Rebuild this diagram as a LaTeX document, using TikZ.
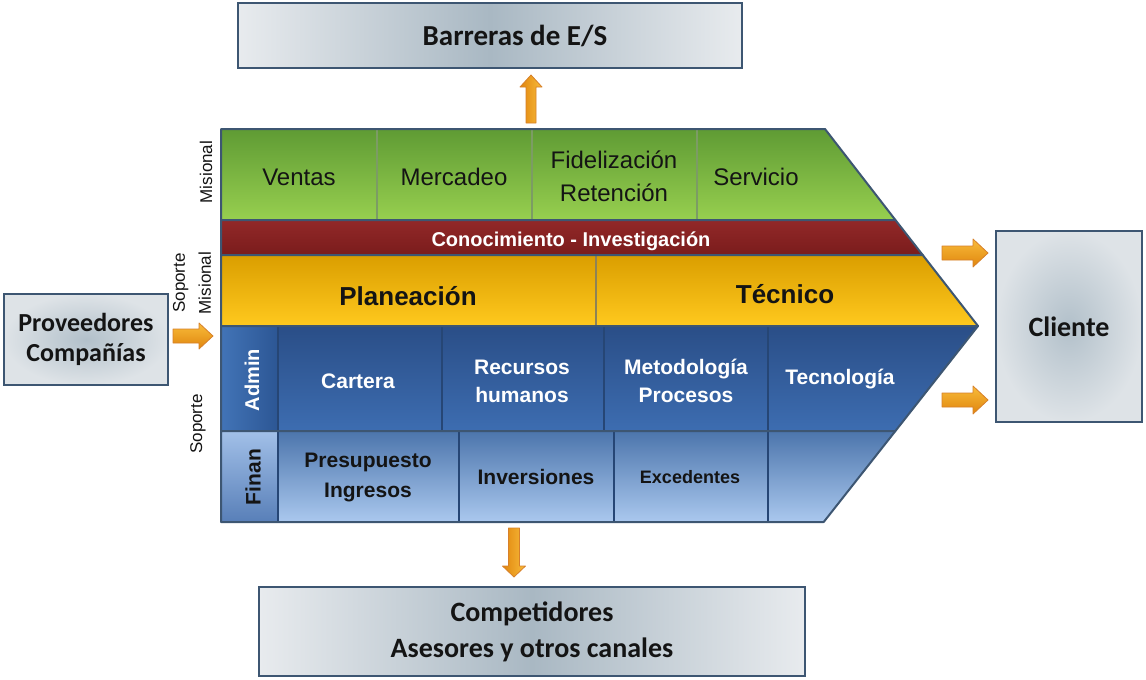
\documentclass[tikz,border=0pt]{standalone}
\usepackage{fontspec}
\setmainfont{Liberation Sans}
\newfontfamily\calfont{Carlito}
\usetikzlibrary{calc}
\definecolor{bord}{HTML}{3D5672}
\definecolor{boxmid}{HTML}{A9B8C3}
\definecolor{boxedge}{HTML}{E8EBEE}
\definecolor{radin}{HTML}{B2C0CA}
\definecolor{radout}{HTML}{DEE3E7}
\definecolor{GrT}{HTML}{5F9B34}
\definecolor{GrB}{HTML}{97CF4F}
\definecolor{GrDiv}{HTML}{7C9C64}
\definecolor{RedT}{HTML}{922828}
\definecolor{RedB}{HTML}{7A1C1C}
\definecolor{YeT}{HTML}{DA9E00}
\definecolor{YeB}{HTML}{FFC91E}
\definecolor{YeDiv}{HTML}{8E8356}
\definecolor{AdT}{HTML}{2A4E87}
\definecolor{AdB}{HTML}{3D6DB1}
\definecolor{AdDiv}{HTML}{264675}
\definecolor{FiT}{HTML}{4C75AC}
\definecolor{FiB}{HTML}{AAC8EE}
\definecolor{AdLabL}{HTML}{4274B7}
\definecolor{AdLabR}{HTML}{2C5694}
\definecolor{FiLabT}{HTML}{A2C0E8}
\definecolor{FiLabB}{HTML}{587FB8}
\definecolor{ArrL}{HTML}{F8BB3A}
\definecolor{ArrD}{HTML}{E0860E}
\definecolor{ArrB}{HTML}{D7802A}
\definecolor{txt}{HTML}{141414}
\newcommand\fs[2]{\fontsize{#1}{#2}\selectfont}
\tikzset{
  graybox/.style={draw=bord, line width=2.2pt, inner sep=0pt, align=center,
    font=\calfont\bfseries, text=txt},
  boxtext/.style={inner sep=0pt, align=center, text=txt},
  hshade/.style={left color=boxedge, right color=boxedge, middle color=boxmid},
  rshade/.style={inner color=radin, outer color=radout},
  rowline/.style={draw=bord, line width=2pt, line join=round},
  lbl/.style={text=txt, align=center, inner sep=0pt},
  wlbl/.style={text=white, align=center, inner sep=0pt, font=\bfseries},
  sidelbl/.style={text=txt, align=center, inner sep=0pt, rotate=90},
  arrowh/.style={top color=ArrL, bottom color=ArrD, draw=ArrB, line width=0.8pt, line join=round},
  arrowv/.style={left color=ArrD, right color=ArrL, draw=ArrB, line width=0.8pt, line join=round}
}
% horizontal arrow pointing right: #1 coord, #2 length, #3 neck, #4 shaft half, #5 head half
\newcommand\HArrow[5]{%
  \shade[arrowh, shift={(#1)}] (0,-#4) -- (#3,-#4) -- (#3,-#5) -- (#2,0) -- (#3,#5) -- (#3,#4) -- (0,#4) -- cycle;}
% vertical arrow: #1 coord, #2 signed length, #3 signed neck, #4 shaft half, #5 head half
\newcommand\VArrow[5]{%
  \shade[arrowv, shift={(#1)}] (-#4,0) -- (-#4,#3) -- (-#5,#3) -- (0,#2) -- (#5,#3) -- (#4,#3) -- (#4,0) -- cycle;}
\begin{document}
\begin{tikzpicture}[x=1pt,y=-1pt]
\useasboundingbox (0,0) rectangle (1146,680);
\fill[white] (0,0) rectangle (1146,680);

% ---------- outer boxes ----------
\node[graybox, hshade, minimum width=504pt, minimum height=65pt] (barr) at (490,35.5) {};
\node[boxtext, font=\calfont\bfseries\fs{29}{34}] (barrT) at (515,36) {Barreras de E/S};
\node[graybox, hshade, minimum width=546pt, minimum height=89pt, font=\calfont\bfseries\fs{28}{36}]
  (compet) at (532,631.5) {Competidores\\Asesores y otros canales};
\node[graybox, rshade, minimum width=164pt, minimum height=91pt, font=\calfont\bfseries\fs{26}{30}]
  (prov) at (86,339.5) {Proveedores\\Compañías};
\node[graybox, rshade, minimum width=146pt, minimum height=191pt, font=\calfont\bfseries\fs{28}{32}]
  (cliente) at (1069,326.5) {Cliente};

% ---------- chevron rows ----------
% green row
\shade[top color=GrT, bottom color=GrB] (221,129) -- (825,129) -- (895.4,220) -- (221,220) -- cycle;
\foreach \x in {377,532,697} \draw[GrDiv, line width=1.5pt] (\x,129) -- (\x,220);
\draw[rowline] (221,129) -- (825,129) -- (895.4,220) -- (221,220) -- cycle;
% red row
\shade[top color=RedT, bottom color=RedB] (221,220) -- (895.4,220) -- (922.7,255) -- (221,255) -- cycle;
\draw[rowline] (221,220) -- (895.4,220) -- (922.7,255) -- (221,255) -- cycle;
% yellow row
\shade[top color=YeT, bottom color=YeB] (221,255) -- (922.7,255) -- (978,326) -- (221,326) -- cycle;
\draw[YeDiv, line width=1.5pt] (596,255) -- (596,326);
\draw[rowline] (221,255) -- (922.7,255) -- (978,326) -- (221,326) -- cycle;
% admin row
\shade[top color=AdT, bottom color=AdB] (221,326) -- (978,326) -- (895.4,431) -- (221,431) -- cycle;
\shade[left color=AdLabL, right color=AdLabR] (221,326) rectangle (278,431);
\foreach \x in {278,442,604,768} \draw[AdDiv, line width=1.5pt] (\x,326) -- (\x,431);
\draw[rowline] (221,326) -- (978,326) -- (895.4,431) -- (221,431) -- cycle;
% finan row
\shade[top color=FiT, bottom color=FiB] (221,431) -- (895.4,431) -- (823.7,522) -- (221,522) -- cycle;
\shade[top color=FiLabT, bottom color=FiLabB] (221,431) rectangle (278,522);
\foreach \x in {278,459,614,768} \draw[AdDiv, line width=1.5pt] (\x,431) -- (\x,522);
\draw[rowline] (221,431) -- (895.4,431) -- (823.7,522) -- (221,522) -- cycle;

% ---------- texts in chevron ----------
\node[lbl, font=\fs{24}{33}] (ventas) at (299,177) {Ventas};
\node[lbl, font=\fs{24}{33}] (mercadeo) at (454,177) {Mercadeo};
\node[lbl, font=\fs{24}{33}] (fidel) at (614,176) {Fidelización\\Retención};
\node[lbl, font=\fs{24}{33}] (servicio) at (756,177) {Servicio};
\node[wlbl, font=\bfseries\fs{20}{24}] (conoc) at (571,241) {Conocimiento - Investigación};
\node[lbl, font=\bfseries\fs{26}{30}] (planea) at (408,296) {Planeación};
\node[lbl, font=\bfseries\fs{26}{30}] (tecnico) at (785,294) {Técnico};
\node[wlbl, rotate=90, font=\bfseries\fs{20}{24}] (admin) at (252,380) {Admin};
\node[wlbl, font=\bfseries\fs{21}{28}] (cartera) at (358,381) {Cartera};
\node[wlbl, font=\bfseries\fs{21}{28}] (rrhh) at (522,381) {Recursos\\humanos};
\node[wlbl, font=\bfseries\fs{21}{28}] (metod) at (686,381) {Metodología\\Procesos};
\node[wlbl, font=\bfseries\fs{21}{28}] (tecnol) at (840,379) {Tecnología};
\node[lbl, rotate=90, font=\bfseries\fs{21}{24}] (finan) at (253,477) {Finan};
\node[lbl, font=\bfseries\fs{21}{30}] (presup) at (368,477) {Presupuesto\\Ingresos};
\node[lbl, font=\bfseries\fs{21}{30}] (invers) at (536,477) {Inversiones};
\node[lbl, font=\bfseries\fs{18}{22}] (exced) at (690,477) {Excedentes};

% ---------- side labels ----------
\node[sidelbl, font=\fs{17}{26}] (misional) at (206,172) {Misional};
\node[sidelbl, font=\fs{17}{26}] (sopmis) at (192,283) {Soporte\\Misional};
\node[sidelbl, font=\fs{17}{26}] (soporte) at (198,424) {Soporte};

% ---------- block arrows ----------
\coordinate (barrA) at (531,123);
\coordinate (compA) at (514,528);
\coordinate (provA) at (173,336);
\coordinate (cliA1) at (942,253);
\coordinate (cliA2) at (942,400);
\VArrow{barrA}{-48}{-36}{5}{11}
\VArrow{compA}{49}{38}{5.5}{11.5}
\HArrow{provA}{40}{26}{7}{13}
\HArrow{cliA1}{46}{31}{7}{14}
\HArrow{cliA2}{46}{31}{7}{14}
\end{tikzpicture}
\end{document}
